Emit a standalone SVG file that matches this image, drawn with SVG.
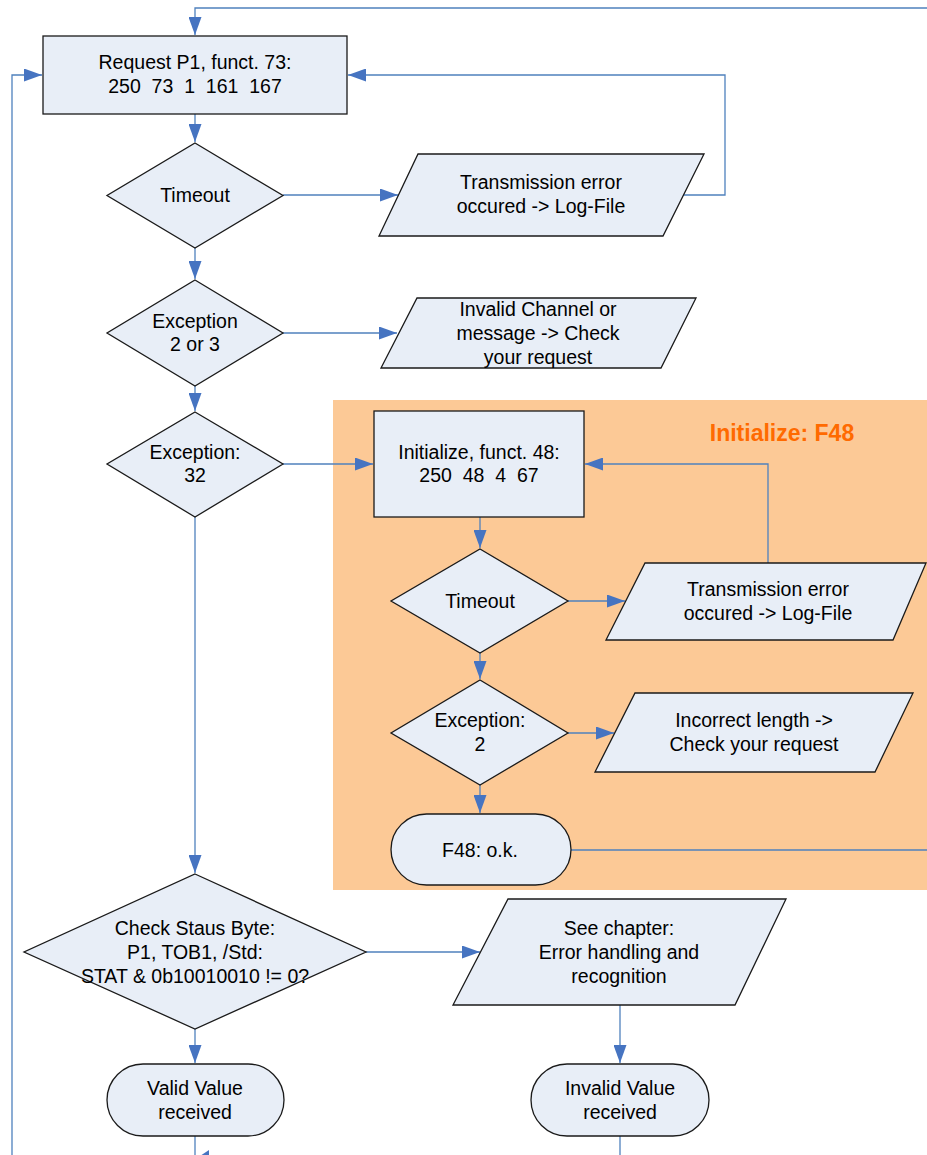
<svg xmlns="http://www.w3.org/2000/svg" width="927" height="1155" viewBox="0 0 927 1155">
<style>
.n{fill:#E8EEF7;stroke:#1a1a1a;stroke-width:1.3}
.t{font-family:"Liberation Sans",Arial,sans-serif;font-size:19.5px;fill:#000;text-anchor:middle}
.c{fill:none;stroke:#4F81BD;stroke-width:1.3}
.h{font-family:"Liberation Sans",Arial,sans-serif;font-size:23px;font-weight:bold;fill:#FF6A00;text-anchor:middle}
</style>
<defs>
<marker id="arr" viewBox="0 0 18 13" markerWidth="18" markerHeight="13" refX="18" refY="6.5" orient="auto" markerUnits="userSpaceOnUse">
<path d="M0,0 L18,6.5 L0,13 z" fill="#4674C1"/>
</marker>
</defs>
<rect width="927" height="1155" fill="#fff"/>
<g id="group-init">
<rect x="333" y="400" width="600" height="490" fill="#FCC996"/>
<text class="h" x="782" y="441">Initialize: F48</text>
</g>
<g id="connectors">
<path class="c" d="M927,8 H195 V35" marker-end="url(#arr)"/>
<path class="c" d="M12,1155 V75 H42" marker-end="url(#arr)"/>
<path class="c" d="M195,114 V142" marker-end="url(#arr)"/>
<path class="c" d="M283,195 H398" marker-end="url(#arr)"/>
<path class="c" d="M683,195 H725 V75 H348" marker-end="url(#arr)"/>
<path class="c" d="M195,248 V279" marker-end="url(#arr)"/>
<path class="c" d="M283,333 H397" marker-end="url(#arr)"/>
<path class="c" d="M195,386 V411" marker-end="url(#arr)"/>
<path class="c" d="M283,464 H373" marker-end="url(#arr)"/>
<path class="c" d="M195,517 V873" marker-end="url(#arr)"/>
<path class="c" d="M480,517 V548" marker-end="url(#arr)"/>
<path class="c" d="M568,601 H625" marker-end="url(#arr)"/>
<path class="c" d="M768,563 V464 H585" marker-end="url(#arr)"/>
<path class="c" d="M480,653 V679" marker-end="url(#arr)"/>
<path class="c" d="M568,733 H614" marker-end="url(#arr)"/>
<path class="c" d="M480,785 V813" marker-end="url(#arr)"/>
<path class="c" d="M571,850 H927"/>
<path class="c" d="M366,952 H480" marker-end="url(#arr)"/>
<path class="c" d="M195,1029 V1063" marker-end="url(#arr)"/>
<path class="c" d="M620,1005 V1063" marker-end="url(#arr)"/>
<path class="c" d="M195,1136 V1155"/>
<path class="c" d="M620,1136 V1155"/>
<path d="M197,1158 L209,1150 L209,1166 z" fill="#4674C1"/>
</g>
<g id="request">
<rect class="n" x="43" y="36" width="304" height="78"/>
<text class="t" x="195" y="69">Request P1, funct. 73:</text>
<text class="t" x="195" y="93" xml:space="preserve">250  73  1  161  167</text>
</g>
<g id="timeout1">
<path class="n" d="M195,143 L283,195.5 L195,248 L107,195.5 z"/>
<text class="t" x="195" y="202">Timeout</text>
</g>
<g id="transerr1">
<path class="n" d="M418,154 L704,154 L663,236 L379,236 z"/>
<text class="t" x="541" y="189">Transmission error</text>
<text class="t" x="541" y="213">occured -&gt; Log-File</text>
</g>
<g id="exc23">
<path class="n" d="M195,280 L283,333 L195,386 L107,333 z"/>
<text class="t" x="195" y="328">Exception</text>
<text class="t" x="195" y="351">2 or 3</text>
</g>
<g id="invalidch">
<path class="n" d="M417,298 L696,298 L661,368 L381,368 z"/>
<text class="t" x="538" y="316">Invalid Channel or</text>
<text class="t" x="538" y="340">message -&gt; Check</text>
<text class="t" x="538" y="364">your request</text>
</g>
<g id="exc32">
<path class="n" d="M195,412 L283,464 L195,517 L107,464 z"/>
<text class="t" x="195" y="459">Exception:</text>
<text class="t" x="195" y="482">32</text>
</g>
<g id="init48">
<rect class="n" x="374" y="411" width="210" height="106"/>
<text class="t" x="479" y="459">Initialize, funct. 48:</text>
<text class="t" x="479" y="482" xml:space="preserve">250  48  4  67</text>
</g>
<g id="timeout2">
<path class="n" d="M480,549 L568,601 L480,653 L391,601 z"/>
<text class="t" x="480" y="608">Timeout</text>
</g>
<g id="transerr2">
<path class="n" d="M645,563 L926,563 L893,640 L606,640 z"/>
<text class="t" x="768" y="596">Transmission error</text>
<text class="t" x="768" y="620">occured -&gt; Log-File</text>
</g>
<g id="exc2">
<path class="n" d="M480,680 L568,733 L480,785 L391,733 z"/>
<text class="t" x="480" y="727">Exception:</text>
<text class="t" x="480" y="751">2</text>
</g>
<g id="incorrect">
<path class="n" d="M635,693 L913,693 L875,772 L595,772 z"/>
<text class="t" x="754" y="727">Incorrect length -&gt;</text>
<text class="t" x="754" y="751">Check your request</text>
</g>
<g id="f48ok">
<rect class="n" x="391" y="814" width="180" height="71" rx="35.5" ry="35.5"/>
<text class="t" x="480" y="857">F48: o.k.</text>
</g>
<g id="checkstatus">
<path class="n" d="M195,874 L366,952 L195,1029 L24,952 z"/>
<text class="t" x="195" y="935">Check Staus Byte:</text>
<text class="t" x="195" y="959">P1, TOB1, /Std:</text>
<text class="t" x="195" y="983">STAT &amp; 0b10010010 != 0?</text>
</g>
<g id="seechapter">
<path class="n" d="M508,899 L786,899 L735,1005 L453,1005 z"/>
<text class="t" x="619" y="935">See chapter:</text>
<text class="t" x="619" y="959">Error handling and</text>
<text class="t" x="619" y="983">recognition</text>
</g>
<g id="valid">
<rect class="n" x="107" y="1064" width="177" height="72" rx="36" ry="36"/>
<text class="t" x="195" y="1095">Valid Value</text>
<text class="t" x="195" y="1119">received</text>
</g>
<g id="invalid">
<rect class="n" x="531" y="1064" width="178" height="72" rx="36" ry="36"/>
<text class="t" x="620" y="1095">Invalid Value</text>
<text class="t" x="620" y="1119">received</text>
</g>
</svg>
